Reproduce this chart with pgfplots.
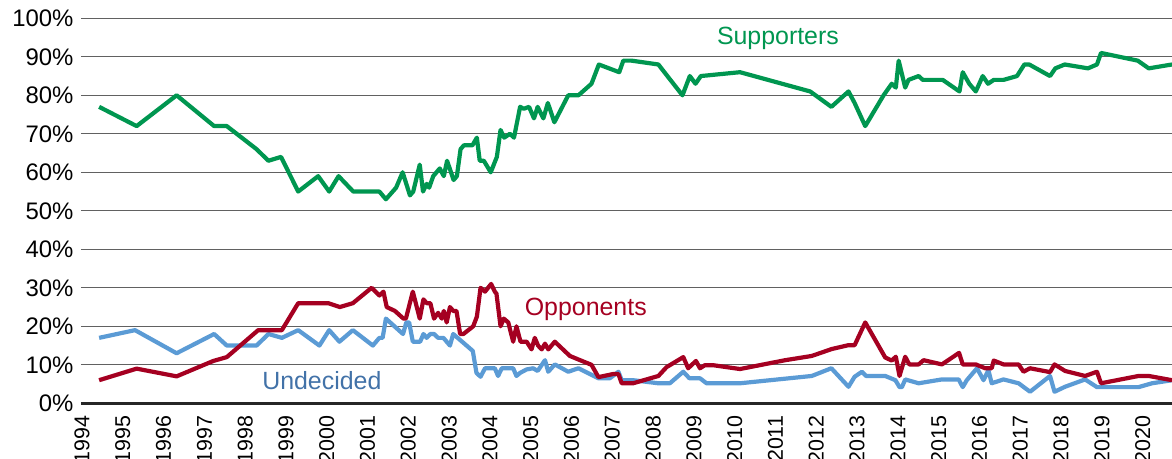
\documentclass[border=0pt]{standalone}
\usepackage{pgfplots}
\usepackage{pgfplotstable}
\usepackage{fontspec}
\setmainfont{Liberation Sans}
\pgfplotsset{compat=1.18}

\definecolor{supp}{RGB}{0,150,80}
\definecolor{opp}{RGB}{165,0,33}
\definecolor{und}{RGB}{91,155,213}
\definecolor{undtxt}{RGB}{66,114,168}

% survey date (decimal year), share in percent
\pgfplotstableread{
year value
1994.37 77
1995.29 72
1996.27 80
1997.19 72
1997.50 72
1998.23 66
1998.52 63
1998.83 64
1999.25 55
1999.74 59
2000.01 55
2000.24 59
2000.60 55
2001.24 55
2001.40 53
2001.65 56
2001.81 60
2001.99 54
2002.07 55
2002.23 62
2002.31 55
2002.40 57
2002.46 56
2002.56 59
2002.72 61
2002.82 59
2002.90 63
2003.06 58
2003.14 59
2003.23 66
2003.31 67
2003.52 67
2003.63 69
2003.70 63
2003.80 63
2003.97 60
2004.12 64
2004.21 71
2004.30 69
2004.44 70
2004.54 69
2004.69 77
2004.78 76.5
2004.91 77
2005.03 74
2005.12 77
2005.26 74
2005.37 78
2005.53 73
2005.87 80
2006.12 80
2006.44 83
2006.62 88
2007.12 86
2007.22 89
2007.42 89
2008.08 88
2008.30 85
2008.67 80
2008.85 85
2008.99 83
2009.12 85
2010.08 86
2011.80 81
2012.32 77
2012.74 81
2012.89 78
2013.15 72
2013.60 80
2013.80 83
2013.90 82
2013.97 89
2014.13 82
2014.21 84
2014.46 85
2014.56 84
2015.05 84
2015.46 81
2015.54 86
2015.70 83
2015.86 81
2016.03 85
2016.16 83
2016.30 84
2016.54 84
2016.87 85
2017.05 88
2017.17 88
2017.68 85
2017.81 87
2018.04 88
2018.61 87
2018.83 88
2018.93 91
2019.83 89
2020.10 87
2020.67 88
}\supporters

\pgfplotstableread{
year value
1994.37 6
1995.29 9
1996.27 7
1997.17 11
1997.50 12
1998.27 19
1998.85 19
1999.25 26
1999.99 26
2000.27 25
2000.59 26
2001.05 30
2001.24 28
2001.34 29
2001.42 25
2001.62 24
2001.83 22
2001.89 22
2002.06 29
2002.23 22
2002.32 27
2002.40 26
2002.49 26
2002.58 22
2002.68 23.5
2002.77 22
2002.82 24
2002.89 21
2002.97 25
2003.05 24
2003.13 24
2003.22 18
2003.30 18
2003.54 20
2003.63 22.5
2003.72 30
2003.83 29
2003.98 31
2004.07 29
2004.11 28.5
2004.21 20
2004.29 22
2004.40 21
2004.52 16
2004.60 20
2004.70 16
2004.85 16
2004.97 14
2005.05 17
2005.13 15
2005.22 14
2005.30 15.5
2005.38 14
2005.54 16
2005.91 12.3
2006.16 11.2
2006.44 10
2006.61 6.8
2006.97 7.6
2007.10 7.6
2007.18 5.2
2007.46 5.2
2008.08 7.1
2008.28 9.4
2008.69 12
2008.81 9.1
2009.00 11
2009.10 9.1
2009.22 9.9
2009.42 9.9
2010.08 8.9
2011.19 11.2
2011.84 12.3
2012.33 14.1
2012.74 15.1
2012.89 15.1
2013.15 21
2013.64 11.9
2013.80 11.1
2013.90 12.1
2013.99 7.1
2014.13 12.1
2014.23 10.1
2014.46 10.1
2014.58 11.2
2015.03 10.1
2015.45 13.1
2015.54 10.1
2015.86 10.1
2016.09 9.1
2016.25 9.1
2016.30 11.1
2016.54 10.1
2016.91 10.1
2017.03 8.2
2017.19 9.1
2017.68 8.1
2017.79 10.1
2018.05 8.4
2018.54 7.1
2018.83 8.2
2018.93 5.2
2019.85 7.1
2020.10 7.1
2020.67 6
}\opponents

\pgfplotstableread{
year value
1994.37 17
1995.25 19
1996.27 13
1997.19 18
1997.50 15
1998.23 15
1998.52 18
1998.85 17
1999.25 19
1999.77 15
2000.01 19
2000.26 16
2000.59 19
2001.08 15
2001.24 17
2001.32 17
2001.40 22
2001.82 18
2001.90 21
2001.97 21
2002.06 16
2002.24 16
2002.32 18
2002.40 17
2002.49 18
2002.58 18
2002.68 17
2002.81 17
2002.97 15
2003.05 18
2003.53 13.6
2003.62 7.9
2003.72 6.9
2003.83 9.1
2004.07 9.1
2004.15 7.1
2004.24 9.1
2004.52 9.1
2004.60 7.1
2004.69 7.9
2004.85 8.8
2005.01 9.1
2005.12 8.4
2005.30 11.2
2005.38 8.2
2005.54 10.1
2005.87 8.2
2006.12 9.1
2006.61 6.5
2006.89 6.5
2007.10 8.2
2007.18 6
2007.46 6
2008.08 5.2
2008.36 5.2
2008.69 8.2
2008.84 6.5
2009.10 6.5
2009.26 5.2
2010.08 5.2
2011.84 7.1
2012.32 9.1
2012.74 4.3
2012.89 6.9
2013.07 8.2
2013.17 7.1
2013.64 7.1
2013.89 6
2013.99 4.2
2014.05 4.2
2014.13 6.2
2014.46 5.2
2015.03 6.2
2015.44 6.2
2015.54 4.2
2015.64 6
2015.89 9.1
2016.05 6
2016.17 8.6
2016.25 5.2
2016.54 6.2
2016.91 5.2
2017.19 3
2017.68 7.1
2017.79 3
2018.05 4.3
2018.54 6.2
2018.83 4.2
2018.95 4.2
2019.85 4.2
2020.18 5.2
2020.67 6
}\undecided

\begin{document}
\begin{tikzpicture}
\begin{axis}[
  scale only axis,
  width=1091bp, height=385bp,
  xmin=1993.926, xmax=2020.67,
  ymin=0, ymax=100,
  axis lines*=left,
  x axis line style={-, draw=black!85, line width=3bp},
  y axis line style={draw=none},
  ymajorgrids,
  major grid style={draw=black!62, line width=1.1bp},
  major tick length=0pt,
  xtick={1994,1995,...,2020},
  xticklabels={1994,1995,1996,1997,1998,1999,2000,2001,2002,2003,2004,2005,2006,2007,2008,2009,2010,2011,2012,2013,2014,2015,2016,2017,2018,2019,2020},
  ytick={0,10,...,100},
  yticklabels={0\%,10\%,20\%,30\%,40\%,50\%,60\%,70\%,80\%,90\%,100\%},
  xticklabel style={font=\fontsize{21.5}{24}\selectfont, xshift=-2bp, yshift=-9bp, rotate=90, anchor=east},
  yticklabel style={font=\fontsize{24}{28}\selectfont, anchor=east, xshift=-4bp},
  every axis plot/.append style={line width=4.2bp, line join=round, mark=none},
]
\coordinate (sw) at (rel axis cs:0,0);
\coordinate (ne) at (rel axis cs:1,1);

\addplot[color=und] table[x=year, y=value] {\undecided};
\addplot[color=opp] table[x=year, y=value] {\opponents};
\addplot[color=supp] table[x=year, y=value] {\supporters};

\node[anchor=base, text=supp, font=\fontsize{25}{30}\selectfont] at (axis cs:2011.01,93.1) {Supporters};
\node[anchor=base, text=opp, font=\fontsize{25}{30}\selectfont] at (axis cs:2006.30,22.7) {Opponents};
\node[anchor=base, text=undtxt, font=\fontsize{25}{30}\selectfont] at (axis cs:1999.83,3.5) {Undecided};
\end{axis}
\pgfresetboundingbox
\useasboundingbox ([shift={(-81bp,-55.7bp)}]sw) rectangle ([shift={(0bp,18.3bp)}]ne);
\end{tikzpicture}
\end{document}
